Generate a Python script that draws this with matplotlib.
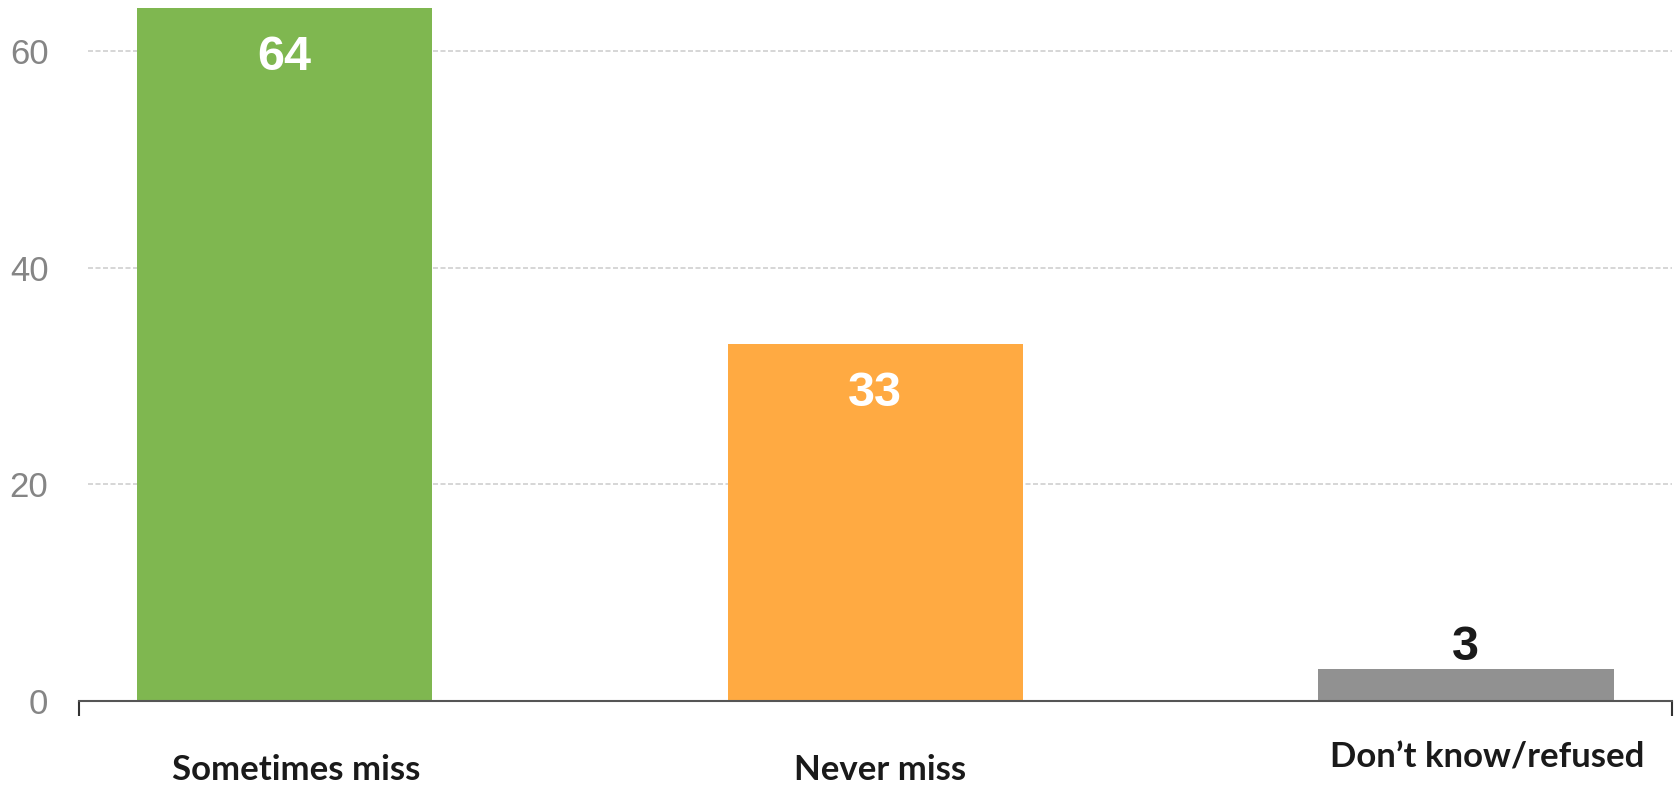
import matplotlib
matplotlib.use("Agg")
import matplotlib.pyplot as plt

categories = ["Sometimes miss", "Never miss", "Don\u2019t know/refused"]
values = [64, 33, 3]
colors = ["#7fb750", "#ffaa42", "#919191"]
yticks = [0, 20, 40, 60]

# layout-only tweaks (label placement in data units)
label_dx = [0.02, 0.008, 0.036]
label_y = [-6.37, -6.37, -5.17]

W, H = 1676, 788
fig = plt.figure(figsize=(W / 100, H / 100), dpi=100)
ax = fig.add_axes([79 / W, 87 / H, (1672 - 79) / W, 701 / H])

x = list(range(len(categories)))
ax.bar(x, values, width=0.5, color=colors, zorder=2)
ax.set_xlim(-0.348, 2.349)
ax.set_ylim(0, 701 / 10.833)

for t in yticks[1:]:
    ax.axhline(t, xmin=9 / 1593, xmax=1, color="#cfcfcf", lw=1.2,
               ls=(0, (3, 1.5)), zorder=1)

ax.set_yticks(yticks)
ax.set_yticklabels([str(t) for t in yticks], fontsize=25, color="#858585",
                   family="Liberation Sans")
ax.tick_params(axis="y", length=0, pad=22)
ax.set_xticks([])
for s in ["top", "right", "left"]:
    ax.spines[s].set_visible(False)
ax.spines["bottom"].set_color("#555555")
ax.spines["bottom"].set_linewidth(1.5)

# end ticks on the baseline
for xe in ax.get_xlim():
    ax.plot([xe, xe], [0, -15 / 10.833], color="#333333", lw=1.5,
            clip_on=False, solid_capstyle="butt")

for i, v in enumerate(values):
    if v > 10:
        ax.annotate(str(v), (i, v), xytext=(0, -20), textcoords="offset points",
                    ha="center", va="top", fontsize=35, fontweight="bold",
                    color="white", family="Liberation Sans")
    else:
        ax.annotate(str(v), (i, v), xytext=(0, -1), textcoords="offset points",
                    ha="center", va="bottom", fontsize=35, fontweight="bold",
                    color="#1a1a1a", family="Liberation Sans")

for i, c in enumerate(categories):
    ax.text(i + label_dx[i], label_y[i], c, ha="center", va="center",
            fontsize=25, fontweight="bold", color="#1a1a1a", family="Lato",
            clip_on=False)

fig.savefig("out.png", dpi=100)
